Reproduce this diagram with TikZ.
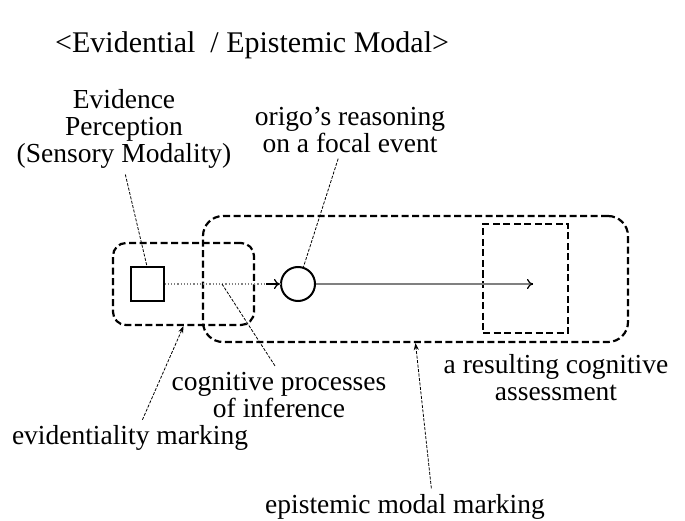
\documentclass[tikz,border=0pt]{standalone}
\usepackage{fontspec}
\setmainfont{Liberation Serif}
\usetikzlibrary{arrows.meta}

\begin{document}
\begin{tikzpicture}[x=1pt,y=-1pt,>=Stealth,
    txt/.style={align=center,inner sep=0pt,font=\fontsize{27.5}{27}\selectfont},
    frame/.style={draw,line width=2.2pt,dash pattern=on 7pt off 3.5pt},
    leader/.style={draw,line width=0.8pt,dash pattern=on 3pt off 1.5pt},
    main node/.style={draw,line width=2pt,fill=white,inner sep=0pt}]

    \useasboundingbox (0,0) rectangle (685,521);

    % frames
    \node[frame, rounded corners=20pt, minimum width=425pt, minimum height=126pt] (epbox) at (415.5,279) {};
    \node[frame, rounded corners=13pt, minimum width=141pt, minimum height=82pt] (evbox) at (183.5,284) {};
    \node[frame, line width=2pt, minimum width=85pt, minimum height=109pt] (result box) at (525.5,278.5) {};

    % evidence and focal event
    \node[main node, minimum size=33pt] (sq) at (147,284) {};
    \node[main node, circle, minimum size=34pt] (circ) at (298,284) {};
    \coordinate (infer) at (222,284);
    \coordinate (goal) at (533,284);

    \draw[gray, line width=1.2pt, dotted] (sq) -- (circ);
    \draw[-{To[length=6pt,width=10pt]}, line width=1.2pt] ([xshift=-14pt]circ.west) -- (circ);
    \draw[gray, line width=1.2pt] (circ) -- (goal);
    \draw[-{To[length=6pt,width=10pt]}, line width=1.2pt] ([xshift=-1pt]goal) -- (goal);

    % labels
    \node[txt, anchor=west, font=\fontsize{30}{30}\selectfont] (title) at (55,45) {<Evidential\ \ / Epistemic Modal>};
    \node[txt] (evidence) at (124,129) {Evidence\\Perception\\(Sensory Modality)};
    \node[txt] (origo) at (350,130) {origo's reasoning\\on a focal event};
    \node[txt] (cogproc) at (279,395) {cognitive processes\\of inference};
    \node[txt] (evmark) at (130,438) {evidentiality marking};
    \node[txt] (result) at (556,378) {a resulting cognitive\\assessment};
    \node[txt] (epmark) at (405,507) {epistemic modal marking};

    % leaders
    \draw[leader, shorten <=6pt] (evidence.south) -- (sq.north);
    \draw[leader, shorten <=6pt] ([xshift=-10pt]origo.south) -- (circ);
    \draw[leader, shorten >=6pt] (infer) -- (cogproc.north);
    \draw[leader, -{Stealth[length=7pt,width=5pt]}, shorten <=6pt] ([xshift=10pt]evmark.north) -- (evbox.south);
    \draw[leader, -{Stealth[length=7pt,width=5pt]}, shorten <=6pt] ([xshift=27pt]epmark.north) -- (epbox.south);
\end{tikzpicture}
\end{document}
